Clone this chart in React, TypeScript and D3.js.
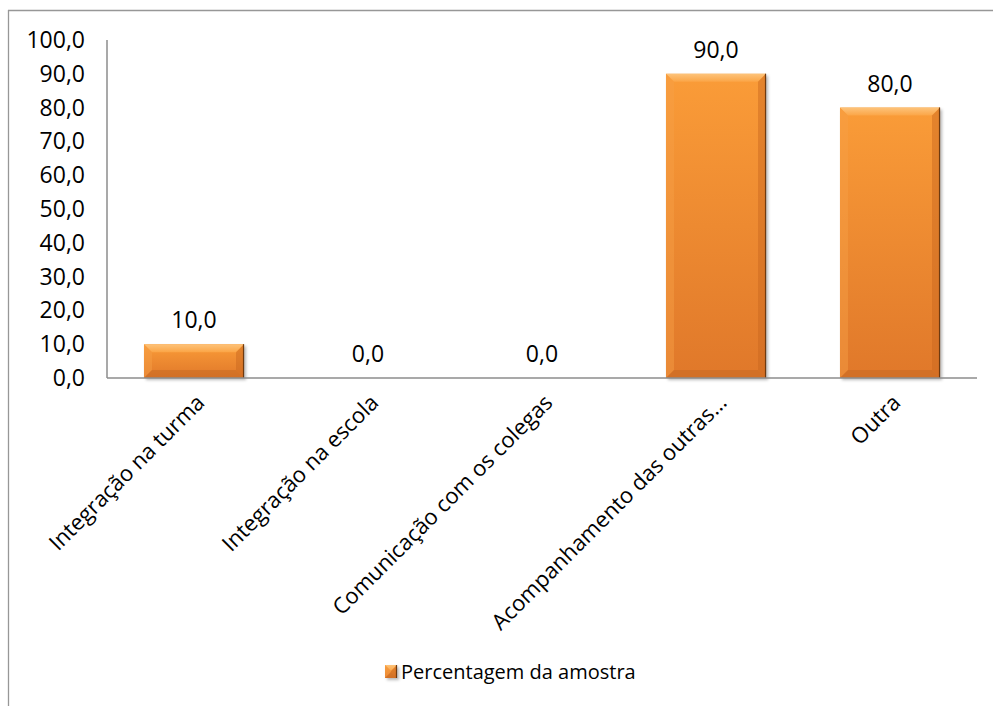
import React from "react";
import * as d3 from "d3";

// Percentage of the sample per category
const categories = [
  "Integração na turma",
  "Integração na escola",
  "Comunicação com os colegas",
  "Acompanhamento das outras…",
  "Outra",
];
const values = [10.0, 0.0, 0.0, 90.0, 80.0];
const yTicks = [0, 10, 20, 30, 40, 50, 60, 70, 80, 90, 100];
const seriesName = "Percentagem da amostra";

const W = 993;
const H = 706;
const plot = { left: 107, right: 977, top: 40, bottom: 378 };
const FONT = "'Open Sans', sans-serif";

const fmt = (v: number) => d3.format(".1f")(v).replace(".", ",");

function BevelBar({ x, y, w, h }: { x: number; y: number; w: number; h: number }) {
  if (h <= 0) return null;
  const b = Math.min(8, h / 2, w / 2);
  const x1 = x + w;
  const y1 = y + h;
  return (
    <g>
      <rect x={x + 2} y={y + 2} width={w} height={h} fill="rgba(0,0,0,0.28)" filter="url(#barShadow)" />
      <rect x={x} y={y} width={w} height={h} fill="url(#barFill)" />
      <polygon points={`${x},${y} ${x1},${y} ${x1 - b},${y + b} ${x + b},${y + b}`} fill="url(#bevelTop)" />
      <polygon points={`${x},${y} ${x + b},${y + b} ${x + b},${y1 - b} ${x},${y1}`} fill="#f7a048" opacity={0.45} />
      <polygon points={`${x1},${y} ${x1},${y1} ${x1 - b},${y1 - b} ${x1 - b},${y + b}`} fill="#c8661e" opacity={0.45} />
      <polygon points={`${x},${y1} ${x + b},${y1 - b} ${x1 - b},${y1 - b} ${x1},${y1}`} fill="#c66a22" opacity={0.55} />
      <line x1={x1 - 0.5} y1={y} x2={x1 - 0.5} y2={y1} stroke="#6e3a10" strokeWidth={1.2} />
    </g>
  );
}

export default function App() {
  const x = d3.scaleBand<string>().domain(categories).range([plot.left, plot.right]).paddingInner(0.425).paddingOuter(0.2125);
  const y = d3.scaleLinear().domain([0, 100]).range([plot.bottom, plot.top]);
  const bw = x.bandwidth();

  return (
    <svg
      width={W}
      height={H}
      viewBox={`0 0 ${W} ${H}`}
      style={{ position: "absolute", left: 0, top: 0, background: "#fff" }}
    >
      <defs>
        <linearGradient id="barFill" x1="0" y1="0" x2="0" y2="1">
          <stop offset="0" stopColor="#fa9c38" />
          <stop offset="1" stopColor="#e0782a" />
        </linearGradient>
        <linearGradient id="bevelTop" x1="0" y1="0" x2="0" y2="1">
          <stop offset="0" stopColor="#fdc37a" />
          <stop offset="1" stopColor="#fba546" />
        </linearGradient>
        <filter id="barShadow" x="-20%" y="-20%" width="140%" height="140%">
          <feGaussianBlur stdDeviation="1.5" />
        </filter>
      </defs>

      {/* chart frame */}
      <line x1={8} y1={10.5} x2={W} y2={10.5} stroke="#979797" strokeWidth={1.3} />
      <line x1={8.5} y1={10} x2={8.5} y2={H} stroke="#979797" strokeWidth={1.3} />

      {/* bars */}
      {categories.map((c, i) => (
        <BevelBar key={c} x={x(c)!} y={y(values[i])} w={bw} h={y(0) - y(values[i])} />
      ))}

      {/* axes */}
      <line x1={plot.left} y1={plot.top} x2={plot.left} y2={plot.bottom} stroke="#8c8c8c" strokeWidth={1.5} />
      <line x1={plot.left} y1={plot.bottom} x2={plot.right} y2={plot.bottom} stroke="#8c8c8c" strokeWidth={1.5} />

      {/* y tick labels */}
      {yTicks.map((t) => (
        <text
          key={t}
          x={85}
          y={y(t)}
          dy="0.35em"
          textAnchor="end"
          fontFamily={FONT}
          fontSize={23}
          fill="#000"
        >
          {fmt(t)}
        </text>
      ))}

      {/* value labels */}
      {categories.map((c, i) => (
        <text
          key={c}
          x={x(c)! + bw / 2}
          y={y(values[i]) - 16}
          textAnchor="middle"
          fontFamily={FONT}
          fontSize={23}
          fill="#000"
        >
          {fmt(values[i])}
        </text>
      ))}

      {/* category labels, rotated -45° */}
      {categories.map((c) => {
        const cx = x(c)! + bw / 2 + 12;
        const cy = 404;
        return (
          <text
            key={c}
            transform={`translate(${cx},${cy}) rotate(-45)`}
            textAnchor="end"
            fontFamily={FONT}
            fontSize={22}
            fill="#000"
          >
            {c}
          </text>
        );
      })}

      {/* legend */}
      <BevelBar x={385} y={665} w={12} h={13} />
      <text x={401} y={679} fontFamily={FONT} fontSize={20} fill="#000">
        {seriesName}
      </text>
    </svg>
  );
}
